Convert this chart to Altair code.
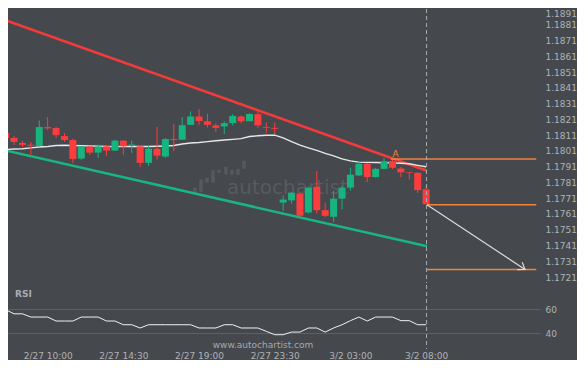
import math
import altair as alt
import pandas as pd

# ---------------- data ----------------
candle_index = list(range(51))
opens = [1.18123, 1.18092, 1.18060, 1.18049, 1.18041, 1.18161, 1.18155, 1.18104, 1.18079, 1.17961,
         1.18039, 1.17999, 1.18039, 1.18012, 1.18075, 1.18043, 1.18039, 1.17934, 1.18024, 1.17974,
         1.18085, 1.18081, 1.18175, 1.18228, 1.18198, 1.18172, 1.18165, 1.18186, 1.18228, 1.18198,
         1.18243, 1.18161, 1.18156, 1.17682, 1.17696, 1.17739, 1.17619, 1.17783, 1.17634, 1.17592,
         1.17707, 1.17777, 1.17854, 1.17928, 1.17844, 1.17896, 1.17945, 1.17898, 1.17875, 1.17871,
         1.17766]
highs = [1.18130, 1.18104, 1.18073, 1.18066, 1.18203, 1.18224, 1.18163, 1.18123, 1.18088, 1.18040,
         1.18040, 1.18050, 1.18049, 1.18081, 1.18079, 1.18075, 1.18040, 1.18046, 1.18161, 1.18092,
         1.18180, 1.18224, 1.18260, 1.18274, 1.18246, 1.18186, 1.18197, 1.18243, 1.18236, 1.18249,
         1.18263, 1.18190, 1.18190, 1.17728, 1.17748, 1.17745, 1.17783, 1.17882, 1.17682, 1.17758,
         1.17789, 1.17903, 1.17947, 1.17934, 1.17903, 1.17966, 1.17953, 1.17909, 1.17877, 1.17875,
         1.17789]
lows = [1.18086, 1.18048, 1.18035, 1.17986, 1.18038, 1.18142, 1.18092, 1.18067, 1.17934, 1.17953,
        1.17985, 1.17966, 1.17978, 1.18010, 1.17986, 1.17997, 1.17907, 1.17913, 1.17955, 1.17966,
        1.18008, 1.18079, 1.18174, 1.18175, 1.18159, 1.18129, 1.18117, 1.18172, 1.18186, 1.18198,
        1.18154, 1.18125, 1.18117, 1.17630, 1.17676, 1.17588, 1.17613, 1.17613, 1.17588, 1.17560,
        1.17640, 1.17758, 1.17852, 1.17812, 1.17840, 1.17893, 1.17896, 1.17843, 1.17829, 1.17742,
        1.17670]
closes = [1.18092, 1.18067, 1.18048, 1.18043, 1.18161, 1.18153, 1.18110, 1.18079, 1.17959, 1.18039,
          1.17999, 1.18039, 1.18012, 1.18075, 1.18039, 1.18050, 1.17934, 1.18024, 1.17980, 1.18085,
          1.18079, 1.18173, 1.18228, 1.18200, 1.18175, 1.18156, 1.18186, 1.18232, 1.18198, 1.18244,
          1.18172, 1.18156, 1.18150, 1.17701, 1.17745, 1.17598, 1.17777, 1.17634, 1.17598, 1.17707,
          1.17777, 1.17859, 1.17928, 1.17844, 1.17896, 1.17945, 1.17903, 1.17874, 1.17871, 1.17761,
          1.17672]
ma_values = [1.18019, 1.18022, 1.18024, 1.18029, 1.18035, 1.18038, 1.18044, 1.18046, 1.18044, 1.18043,
             1.18041, 1.18039, 1.18038, 1.18037, 1.18038, 1.18038, 1.18038, 1.18038, 1.18039, 1.18041,
             1.18044, 1.18054, 1.18060, 1.18063, 1.18069, 1.18074, 1.18079, 1.18083, 1.18088, 1.18101,
             1.18106, 1.18109, 1.18110, 1.18092, 1.18069, 1.18046, 1.18029, 1.18013, 1.17994, 1.17978,
             1.17959, 1.17947, 1.17939, 1.17937, 1.17936, 1.17935, 1.17934, 1.17932, 1.17928, 1.17918,
             1.17909]
rsi_values = [59.5, 56.0, 56.0, 53.3, 53.3, 53.3, 50.0, 50.0, 50.0, 53.3,
              53.3, 53.3, 50.0, 50.0, 46.9, 46.9, 44.2, 46.9, 46.9, 46.9,
              46.9, 46.9, 46.9, 44.2, 44.2, 44.2, 46.9, 46.9, 44.2, 44.2,
              44.2, 41.4, 38.6, 38.6, 40.8, 40.8, 44.2, 44.2, 40.8, 44.2,
              46.9, 50.3, 53.3, 50.0, 53.3, 53.3, 53.3, 50.3, 50.3, 46.9,
              46.9]

resistance_x = [0.0, 50.1]
resistance_p = [1.18839, 1.17884]
support_x = [0.0, 50.1]
support_p = [1.18013, 1.17405]

level_start = [45.8, 50.1, 50.1]
level_end = [63.1, 63.1, 63.1]
level_price = [1.17959, 1.17668, 1.17258]

arrow_x = [50.1, 61.76]
arrow_p = [1.17668, 1.17258]

now_index = [50.05]

# faint watermark logo (small candle-like bars)
logo_x = [22.52, 23.23, 23.95, 24.66, 25.38, 26.20, 26.91, 27.62, 28.35]
logo_lo = [1.17745, 1.17750, 1.17808, 1.17808, 1.17871, 1.17859, 1.17859, 1.17859, 1.17896]
logo_hi = [1.17777, 1.17829, 1.17840, 1.17890, 1.17890, 1.17909, 1.17890, 1.17896, 1.17947]

price_ticks = [1.1721, 1.1731, 1.1741, 1.1751, 1.1761, 1.1771, 1.1781, 1.1791, 1.1801,
               1.1811, 1.1821, 1.1831, 1.1841, 1.1851, 1.1861, 1.1871, 1.1881, 1.1891]
rsi_ticks = [40, 60]
time_tick_index = [5, 14, 23, 32, 41, 50]
time_tick_labels = ["2/27 10:00", "2/27 14:30", "2/27 19:00", "2/27 23:30", "3/2 03:00", "3/2 08:00"]

pattern_label = ["A"]
pattern_label_x = [46.36]
pattern_label_p = [1.17992]

# ---------------- styling ----------------
BG = "#45484d"
UP = "#17b47f"
DOWN = "#fc3d3d"
RED_LINE = "#f43b3b"
GREEN_LINE = "#19b583"
ORANGE = "#f2843f"
LABEL = "#b0b2b5"
GRID = "#5d6065"
FAINT = "#56595e"
FONT = "DejaVu Sans"

W = 532
H_MAIN = 274
H_RSI = 64
X_DOM = [0.285, 63.54]
P_DOM = [1.17172, 1.1891]
R_DOM = [26.7, 80]

xs = alt.Scale(domain=X_DOM, nice=False, zero=False, padding=0)
ys = alt.Scale(domain=P_DOM, nice=False, zero=False, padding=0)
rs = alt.Scale(domain=R_DOM, nice=False, zero=False, padding=0)

candles = pd.DataFrame({"i": candle_index, "open": opens, "high": highs, "low": lows, "close": closes})
candles["dir"] = ["up" if c >= o else "down" for o, c in zip(opens, closes)]
ma_df = pd.DataFrame({"i": candle_index, "p": ma_values})
rsi_df = pd.DataFrame({"i": candle_index, "rsi": rsi_values})
res_df = pd.DataFrame({"i": resistance_x, "p": resistance_p})
sup_df = pd.DataFrame({"i": support_x, "p": support_p})
lvl_df = pd.DataFrame({"s": level_start, "e": level_end, "p": level_price})
arr_df = pd.DataFrame({"i": arrow_x, "p": arrow_p})
tip_df = arr_df.tail(1)
now_df = pd.DataFrame({"i": now_index})
logo_df = pd.DataFrame({"i": logo_x, "p": logo_lo, "p2": logo_hi})
lab_df = pd.DataFrame({"i": pattern_label_x, "p": pattern_label_p, "t": pattern_label})
wm_df = pd.DataFrame({"i": [33.5], "p": [1.17777], "t": ["autochartist"]})
rsi_lab_df = pd.DataFrame({"i": [1.12], "p": [72.5], "t": ["RSI"]})
www_df = pd.DataFrame({"i": [30.6], "p": [30.0], "t": ["www.autochartist.com"]})

# arrow head angle in pixel space
px_per_i = W / (X_DOM[1] - X_DOM[0])
px_per_p = H_MAIN / (P_DOM[1] - P_DOM[0])
dxp = (arrow_x[1] - arrow_x[0]) * px_per_i
dyp = (arrow_p[0] - arrow_p[1]) * px_per_p
head_angle = math.degrees(math.atan2(dyp, dxp))

price_axis = alt.Axis(orient="right", values=price_ticks, format=".4f", title=None,
                      labelFlush=True, labelOverlap=False, grid=False)
rsi_axis = alt.Axis(orient="right", values=rsi_ticks, title=None, grid=True,
                    gridColor=GRID, gridWidth=1, labelOverlap=False, labelFlush=False)
label_expr = ("[" + ",".join(f"'{t}'" for t in time_tick_labels) + "][indexof(["
              + ",".join(str(v) for v in time_tick_index) + "], datum.value)]")
time_axis = alt.Axis(values=time_tick_index, labelExpr=label_expr, title=None, grid=False,
                     labelPadding=2, labelOverlap=False, labelFlush=False)

XM = lambda f="i": alt.X(f"{f}:Q", scale=xs, axis=None)
YM = lambda f="p": alt.Y(f"{f}:Q", scale=ys, axis=price_axis)
XR = lambda f="i": alt.X(f"{f}:Q", scale=xs, axis=time_axis)
YR = lambda f="p": alt.Y(f"{f}:Q", scale=rs, axis=rsi_axis)
col = alt.Color("dir:N", scale=alt.Scale(domain=["up", "down"], range=[UP, DOWN]), legend=None)

logo = alt.Chart(logo_df).mark_bar(size=3.5, color=FAINT).encode(x=XM(), y=YM(), y2="p2:Q")
watermark = alt.Chart(wm_df).mark_text(font=FONT, fontSize=20, color="#585b60", align="center",
                                       baseline="middle").encode(x=XM(), y=YM(), text="t:N")
res_line = alt.Chart(res_df).mark_line(color=RED_LINE, strokeWidth=2.5, clip=True).encode(x=XM(), y=YM())
sup_line = alt.Chart(sup_df).mark_line(color=GREEN_LINE, strokeWidth=2.5, clip=True).encode(x=XM(), y=YM())
ma_line = alt.Chart(ma_df).mark_line(color="#e8e8e8", strokeWidth=1.4, clip=True).encode(x=XM(), y=YM())
wicks = alt.Chart(candles).mark_rule(strokeWidth=1, clip=True).encode(x=XM(), y=YM("low"), y2="high:Q", color=col)
bodies = alt.Chart(candles).mark_bar(size=7, clip=True).encode(x=XM(), y=YM("open"), y2="close:Q", color=col)
levels = alt.Chart(lvl_df).mark_rule(color=ORANGE, strokeWidth=1.5).encode(x=XM("s"), x2="e:Q", y=YM())
arrow = alt.Chart(arr_df).mark_line(color="#dcdcdc", strokeWidth=1.2).encode(x=XM(), y=YM())
head = alt.Chart(tip_df).mark_point(shape="M -1 -0.7 L 0 0 L -1 0.7", size=160, angle=head_angle,
                                    filled=False, color="#dcdcdc", strokeWidth=1.2, opacity=1).encode(x=XM(), y=YM())
now_main = alt.Chart(now_df).mark_rule(color="#a9abae", strokeDash=[4, 3], strokeWidth=1).encode(x=XM())
a_text = alt.Chart(lab_df).mark_text(font=FONT, fontSize=9, color=ORANGE, baseline="middle").encode(
    x=XM(), y=YM(), text="t:N")

main = alt.layer(logo, watermark, res_line, sup_line, ma_line, wicks, bodies, levels, arrow, head, now_main,
                 a_text).properties(width=W, height=H_MAIN)

rsi_line = alt.Chart(rsi_df).mark_line(color="#f2f2f2", strokeWidth=1, clip=True).encode(x=XR(), y=YR("rsi"))
now_rsi = alt.Chart(now_df).mark_rule(color="#a9abae", strokeDash=[4, 3], strokeWidth=1).encode(x=XR())
rsi_title = alt.Chart(rsi_lab_df).mark_text(font=FONT, fontSize=9, fontWeight="bold", color="#a9abb0",
                                             align="left", baseline="middle").encode(x=XR(), y=YR(), text="t:N")
www = alt.Chart(www_df).mark_text(font=FONT, fontSize=9, color="#a7a9ac", align="center",
                                  baseline="middle").encode(x=XR(), y=YR(), text="t:N")

rsi = alt.layer(rsi_line, now_rsi, rsi_title, www).properties(width=W, height=H_RSI)

chart = alt.vconcat(main, rsi, spacing=0).properties(padding=0, background=BG).configure_view(
    stroke=None).configure_axis(
    labelFont=FONT, labelFontSize=9, labelColor=LABEL, domain=False, ticks=False, labelPadding=5)

chart.save("out.html", embed_options={"renderer": "svg", "actions": False})
